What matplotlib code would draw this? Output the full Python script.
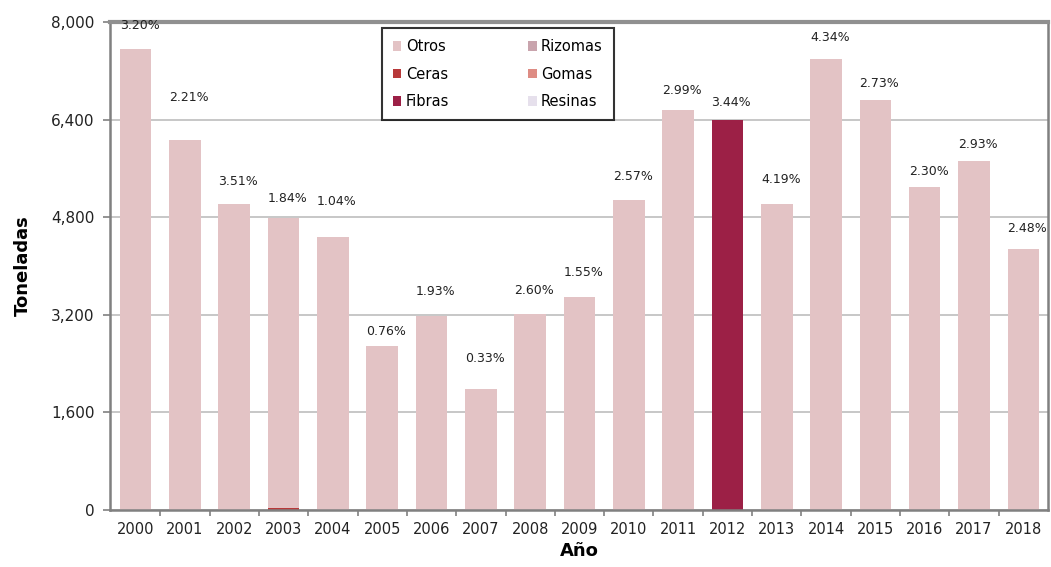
import numpy as np
import matplotlib
matplotlib.use('Agg')
import matplotlib.pyplot as plt
from matplotlib.patches import Patch
from matplotlib.ticker import FuncFormatter

# Datos
anios = ['2000', '2001', '2002', '2003', '2004', '2005', '2006', '2007', '2008', '2009',
         '2010', '2011', '2012', '2013', '2014', '2015', '2016', '2017', '2018']
otros = [7560, 6070, 5010, 4760, 4470, 2690, 3180, 1990, 3220, 3490,
         5080, 6560, 0, 5010, 7390, 6720, 5300, 5720, 4280]
ceras = [0, 0, 0, 30, 0, 0, 0, 0, 0, 0, 0, 0, 0, 0, 0, 0, 0, 0, 0]
fibras = [0, 0, 0, 0, 0, 0, 0, 0, 0, 0, 0, 0, 6390, 0, 0, 0, 0, 0, 0]
porcentajes = ['3.20%', '2.21%', '3.51%', '1.84%', '1.04%', '0.76%', '1.93%', '0.33%', '2.60%',
               '1.55%', '2.57%', '2.99%', '3.44%', '4.19%', '4.34%', '2.73%', '2.30%', '2.93%', '2.48%']
# separacion de las etiquetas sobre la barra (puntos)
sep = [12, 26, 12, 9, 21, 6, 13, 17, 12, 13, 12, 9, 8, 13, 11, 7, 6, 7, 10]

colores = {'Otros': '#e3c3c5', 'Rizomas': '#c9a4ad', 'Ceras': '#b8393a',
           'Gomas': '#de8c84', 'Fibras': '#9c2046', 'Resinas': '#e6e0ec'}

plt.rcParams['font.family'] = 'DejaVu Sans'

fig = plt.figure(figsize=(10.51, 5.67), dpi=100)
ax = fig.add_axes([110 / 1051, 57 / 567, 938 / 1051, 488 / 567])

x = np.arange(len(anios))
ax.bar(x, ceras, width=0.64, color=colores['Ceras'], zorder=2)
ax.bar(x, otros, width=0.64, bottom=ceras, color=colores['Otros'], zorder=2)
ax.bar(x, fibras, width=0.64, color=colores['Fibras'], zorder=2)

total = np.array(otros) + np.array(ceras) + np.array(fibras)
for i in range(len(anios)):
    ax.annotate(porcentajes[i], (x[i] + 0.08, total[i]), xytext=(0, sep[i]),
                textcoords='offset points', ha='center', va='bottom',
                fontsize=9, color='#222222')

ax.set_xlim(-0.52, 18.5)
ax.set_ylim(0, 8000)
ax.set_yticks(np.arange(0, 8001, 1600))
ax.yaxis.set_major_formatter(FuncFormatter(lambda v, p: '{:,.0f}'.format(v)))
ax.set_xticks(x)
ax.set_xticklabels(anios)
ax.set_xticks(np.arange(0.5, 18, 1), minor=True)
ax.tick_params(axis='x', which='major', length=0, labelsize=10.5, pad=9, colors='#222222')
ax.tick_params(axis='x', which='minor', length=4, color='#808080', width=1.2, direction='out')
ax.tick_params(axis='y', length=5, color='#808080', width=1.2, labelsize=11, pad=6,
               labelcolor='#222222')

ax.grid(axis='y', color='#bdbdbd', linewidth=1.2, zorder=0)
for lado in ['left', 'bottom', 'right']:
    ax.spines[lado].set_color('#808080')
    ax.spines[lado].set_linewidth(1.8)
ax.spines['top'].set_color('#909090')
ax.spines['top'].set_linewidth(3)

ax.set_ylabel('Toneladas', fontsize=13, fontweight='bold', labelpad=14)
ax.set_xlabel('Año', fontsize=13, fontweight='bold', labelpad=3)

orden = ['Otros', 'Ceras', 'Fibras', 'Rizomas', 'Gomas', 'Resinas']
handles = [Patch(facecolor=colores[n], label=n) for n in orden]
leg = ax.legend(handles=handles, ncol=2, loc='upper left', bbox_to_anchor=(0.282, 1.002),
                frameon=True, fancybox=False, edgecolor='black', fontsize=10.5,
                handlelength=0.6, handleheight=0.6, handletextpad=0.3,
                columnspacing=5.4, labelspacing=0.85, borderpad=0.75)
leg.get_frame().set_linewidth(1.5)

fig.savefig('out.png', dpi=100)
